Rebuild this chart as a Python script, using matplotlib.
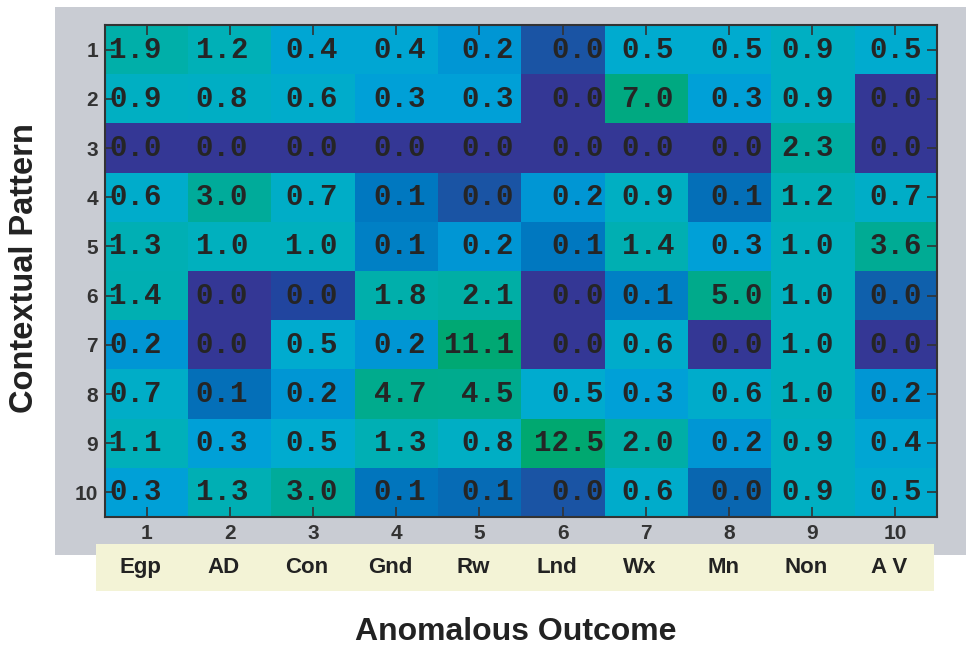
import numpy as np
import matplotlib
matplotlib.use("Agg")
import matplotlib.pyplot as plt
from matplotlib.colors import LinearSegmentedColormap
from matplotlib.patches import Rectangle
from matplotlib.transforms import blended_transform_factory

# data (rows = contextual pattern 1..10, cols = outcome 1..10)
# a few "0.0" / "0.1" cells are shaded lighter/darker, so they carry a guessed hidden decimal
values = np.array([
    [1.9, 1.2, 0.4, 0.4, 0.2, 0.03, 0.5, 0.5, 0.9, 0.5],
    [0.9, 0.8, 0.6, 0.3, 0.3, 0.0, 7.0, 0.3, 0.9, 0.0],
    [0.0, 0.0, 0.0, 0.0, 0.0, 0.0, 0.0, 0.0, 2.3, 0.0],
    [0.6, 3.0, 0.7, 0.1, 0.03, 0.2, 0.9, 0.07, 1.2, 0.7],
    [1.3, 1.0, 1.0, 0.12, 0.2, 0.1, 1.4, 0.3, 1.0, 3.6],
    [1.4, 0.0, 0.02, 1.8, 2.1, 0.0, 0.12, 5.0, 1.0, 0.04],
    [0.2, 0.0, 0.5, 0.2, 11.1, 0.0, 0.6, 0.0, 1.0, 0.0],
    [0.7, 0.07, 0.2, 4.7, 4.5, 0.5, 0.3, 0.6, 1.0, 0.2],
    [1.1, 0.3, 0.5, 1.3, 0.8, 12.5, 2.0, 0.2, 0.9, 0.4],
    [0.3, 1.3, 3.0, 0.09, 0.06, 0.03, 0.6, 0.045, 0.9, 0.5],
])
row_ticks = list(range(1, 11))
col_ticks = list(range(1, 11))
outcomes = ["Egp", "AD", "Con", "Gnd", "Rw", "Lnd", "Wx", "Mn", "Non", "A V"]

# colour scale (roughly log shaped, indigo -> blue -> cyan -> green)
anchor_vals = [0, 0.02, 0.03, 0.045, 0.1, 0.2, 0.3, 0.5, 0.9, 1.3, 2.0, 3.0, 5.0, 12.5]
anchor_cols = ["#343795", "#2146a0", "#1a55a5", "#0a66b0", "#0078c0", "#0096d4",
               "#00a0d8", "#00abd0", "#00b0c2", "#00b0b5", "#00afa8", "#00ab9a",
               "#00ab8c", "#00a870"]

def squash(v):
    return np.log10(np.asarray(v) + 0.01)

lo, hi = squash(anchor_vals[0]), squash(anchor_vals[-1])
pos = (squash(anchor_vals) - lo) / (hi - lo)
pos[0], pos[-1] = 0.0, 1.0
cmap = LinearSegmentedColormap.from_list("ctx", list(zip(pos, anchor_cols)))

fig = plt.figure(figsize=(9.66, 6.47), dpi=100)

# grey panel and beige label strip behind the axes
fig.patches.append(Rectangle((0.057, 0.142), 0.943, 0.847, transform=fig.transFigure,
                             facecolor="#c9ccd3", edgecolor="none", zorder=-3))
fig.patches.append(Rectangle((0.0994, 0.0866), 0.8675, 0.0726, transform=fig.transFigure,
                             facecolor="#f3f3d6", edgecolor="none", zorder=-2))

ax = fig.add_axes([0.1087, 0.2009, 0.8613, 0.7604])
ax.imshow(squash(values), cmap=cmap, vmin=lo, vmax=hi, aspect="auto",
          interpolation="nearest", extent=(0.5, 10.5, 10.5, 0.5))

# numbers sit right-aligned, shifted a bit differently in each column
text_dx = [-0.32, -0.28, -0.20, -0.14, -0.09, 0.0, -0.16, -0.09, -0.24, -0.18]
for i in range(values.shape[0]):
    for j in range(values.shape[1]):
        ax.text(col_ticks[j] + 0.5 + text_dx[j], row_ticks[i], "%.1f" % values[i, j],
                ha="right", va="center", family="Liberation Mono", fontweight="bold",
                fontsize=21, color="#252525")

ax.set_xlim(0.5, 10.5)
ax.set_ylim(10.5, 0.5)
ax.set_xticks(col_ticks)
ax.set_yticks(row_ticks)
ax.tick_params(direction="in", length=7, width=1.2, color="#333333",
               top=True, right=True, labelcolor="#333333", labelsize=15, pad=5)
for lab in ax.get_xticklabels() + ax.get_yticklabels():
    lab.set_family("Liberation Sans")
    lab.set_fontweight("bold")
for sp in ax.spines.values():
    sp.set_color("#333333")
    sp.set_linewidth(1.5)

# outcome names in the beige strip (descenders get cut off like in the original)
trans = blended_transform_factory(ax.transData, fig.transFigure)
cut = Rectangle((0, 1 - 577 / 647), 1, 1, transform=fig.transFigure)
for k, name in enumerate(outcomes):
    t = ax.text(col_ticks[k] - 0.07, 0.123, name, transform=trans, ha="center", va="center",
                family=["Liberation Sans Narrow", "Liberation Sans"], fontweight="bold",
                fontsize=16, color="#222222")
    t.set_clip_path(cut)

fig.text(0.025, 0.586, "Contextual Pattern", rotation=90, ha="center", va="center",
         family="Liberation Sans", fontweight="bold", fontsize=23.5, color="#222222")
fig.text(0.534, 0.023, "Anomalous Outcome", ha="center", va="center",
         family="Liberation Sans", fontweight="bold", fontsize=23, color="#222222")

fig.savefig("out.png", dpi=100)
